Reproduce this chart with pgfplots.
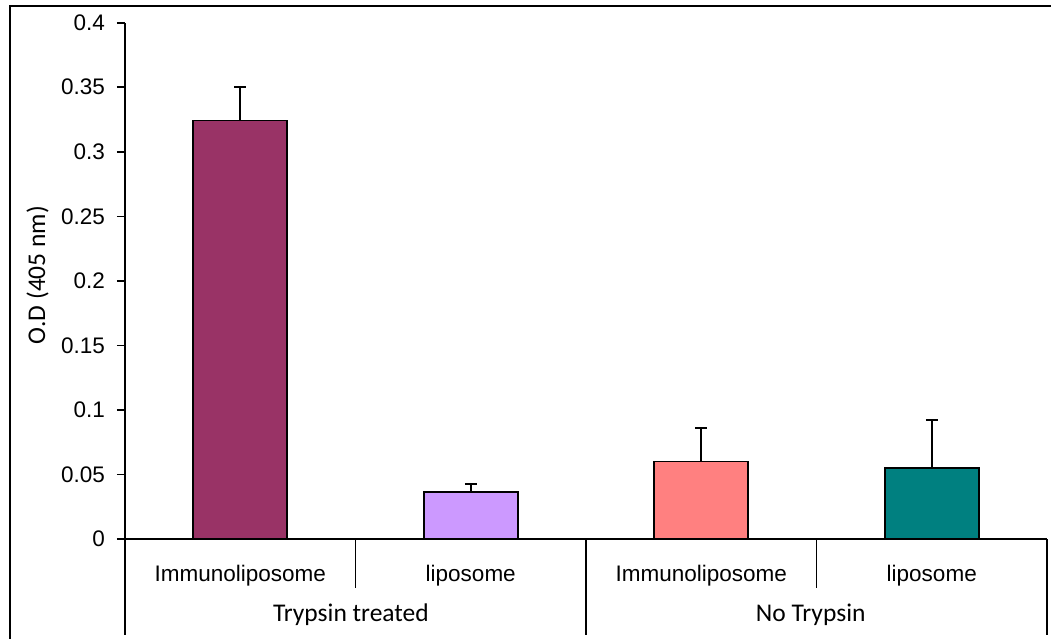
\documentclass[border=0pt]{standalone}
\usepackage{fontspec}
\setmainfont{Liberation Sans}
\newfontfamily\calib{Carlito}
\usepackage{pgfplots}
\pgfplotsset{compat=1.18}
\definecolor{cA}{HTML}{993366}
\definecolor{cB}{HTML}{CC99FF}
\definecolor{cC}{HTML}{FF8080}
\definecolor{cD}{HTML}{008080}
\pgfplotsset{errstyle/.style={
    error bars/y dir=plus, error bars/y explicit,
    error bars/error bar style={line width=1.8pt, black},
    error bars/error mark options={rotate=90, line width=1.8pt, mark size=6pt, black}}}
\begin{document}
\begin{tikzpicture}[x=1pt,y=1pt]
\path[use as bounding box] (0,0) rectangle (1051,638);
\draw[line width=2.3pt] (10,-2) -- (10,632) -- (1053,632);
\begin{axis}[
  at={(125pt,99pt)}, anchor=south west,
  scale only axis, width=922pt, height=516.3pt,
  xmin=0, xmax=4, ymin=0, ymax=0.4,
  axis x line*=bottom, axis y line*=left,
  axis line style={line width=1.6pt},
  clip=false,
  font=\fontsize{22.5}{27}\selectfont,
  /pgf/number format/assume math mode=true,
  /pgf/number format/.cd, fixed, precision=2, /pgfplots/.cd,
  scaled y ticks=false,
  ytick={0,0.05,0.1,0.15,0.2,0.25,0.3,0.35,0.4},
  tick align=outside, major tick length=8pt,
  y tick style={line width=1.6pt, black},
  yticklabel style={anchor=east, inner sep=0pt, xshift=-12pt},
  xtick={0.5,1.5,2.5,3.5},
  xticklabels={Immunoliposome, liposome, Immunoliposome, liposome},
  x tick style={draw=none},
  xticklabel style={anchor=base, inner sep=0pt, yshift=-34pt},
  bar width=94pt,
]
\addplot[ybar, bar shift=0pt, fill=cA, draw=black, line width=1.6pt, errstyle]
  coordinates {(0.5,0.3243) +- (0,0.0256)};
\addplot[ybar, bar shift=0pt, fill=cB, draw=black, line width=1.6pt, errstyle]
  coordinates {(1.5,0.0362) +- (0,0.0064)};
\addplot[ybar, bar shift=0pt, fill=cC, draw=black, line width=1.6pt, errstyle]
  coordinates {(2.5,0.0602) +- (0,0.0256)};
\addplot[ybar, bar shift=0pt, fill=cD, draw=black, line width=1.6pt, errstyle]
  coordinates {(3.5,0.0550) +- (0,0.0372)};
\draw[line width=1.6pt] (axis cs:0,0) -- ([yshift=-96pt]axis cs:0,0);
\draw[line width=1.6pt] (axis cs:2,0) -- ([yshift=-96pt]axis cs:2,0);
\draw[line width=1.6pt] (axis cs:4,0) -- ([yshift=-96pt]axis cs:4,0);
\draw[line width=1.6pt] (axis cs:1,0) -- ([yshift=-49pt]axis cs:1,0);
\draw[line width=1.6pt] (axis cs:3,0) -- ([yshift=-49pt]axis cs:3,0);
\node[font=\calib\fontsize{25.5}{30}\selectfont, anchor=base] at ([yshift=-82pt]axis cs:0.98,0) {Trypsin treated};
\node[font=\calib\fontsize{25.5}{30}\selectfont, anchor=base] at ([yshift=-82pt]axis cs:2.975,0) {No Trypsin};
\end{axis}
\node[rotate=90, anchor=base, inner sep=0pt, font=\calib\fontsize{25.5}{30}\selectfont] at (45,363) {O.D (405 nm)};
\end{tikzpicture}
\end{document}
